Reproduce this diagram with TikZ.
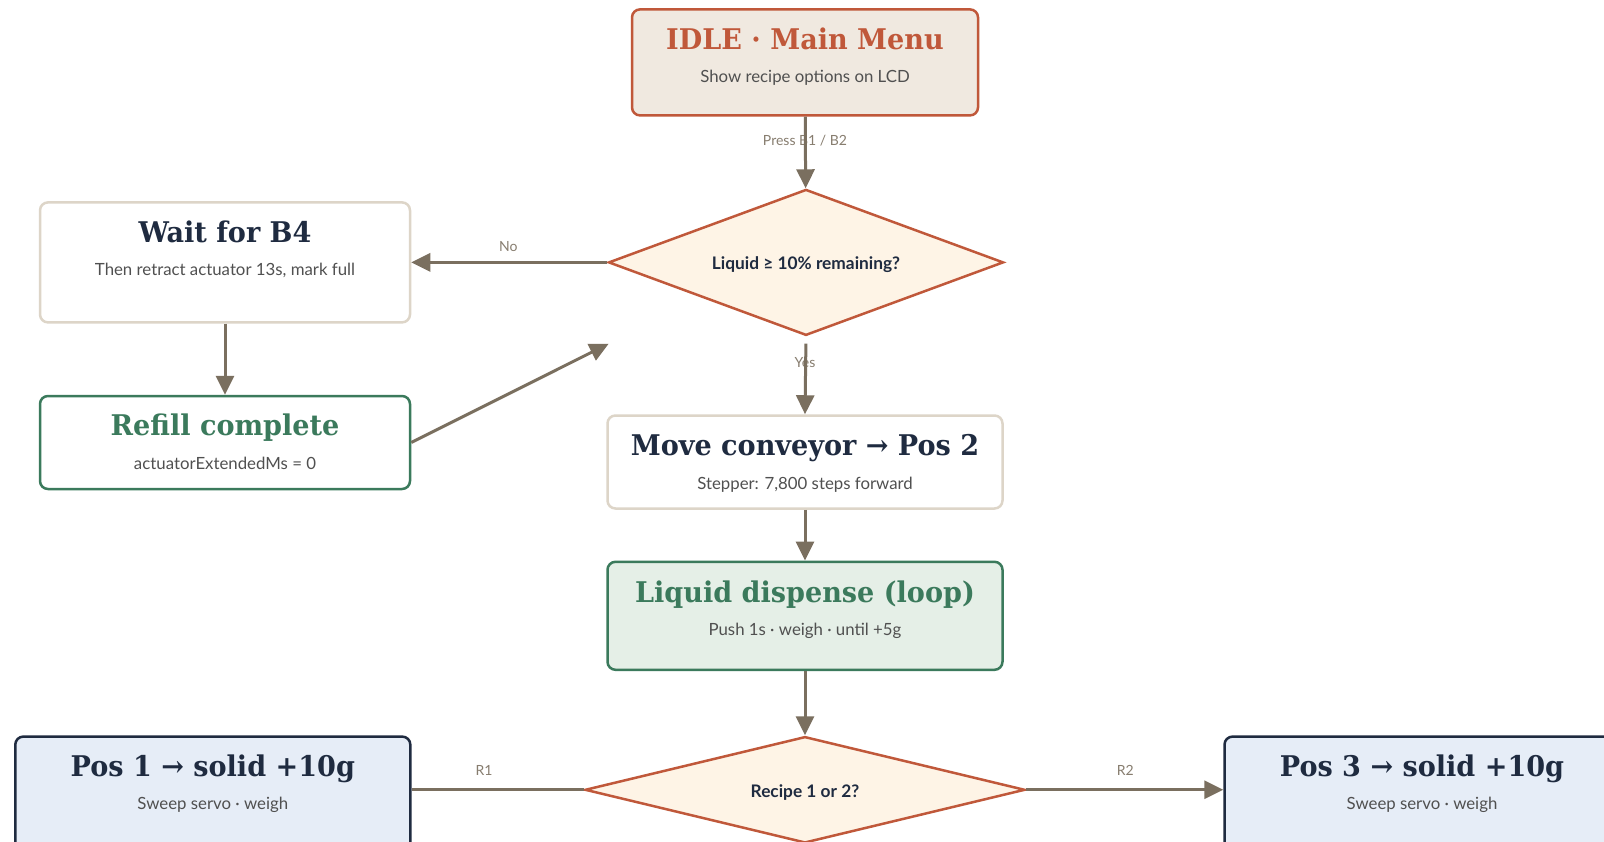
\documentclass[tikz,border=0pt]{standalone}
\usepackage{fontspec}
\usepackage{tikz}
\usetikzlibrary{shapes.geometric, arrows.meta, positioning, calc}
\newfontfamily\headfont{DejaVu Serif}[FakeStretch=0.95]
\newfontfamily\bodyfont{Lato}
\definecolor{rust}{RGB}{192,88,58}
\definecolor{idlefill}{RGB}{240,233,224}
\definecolor{decfill}{RGB}{254,244,230}
\definecolor{sandline}{RGB}{221,213,200}
\definecolor{navy}{RGB}{31,43,64}
\definecolor{pine}{RGB}{59,122,92}
\definecolor{pinefill}{RGB}{229,239,231}
\definecolor{skyfill}{RGB}{230,237,247}
\definecolor{taupe}{RGB}{122,111,95}
\definecolor{subgray}{RGB}{80,80,80}

\begin{document}
\begin{tikzpicture}[x=1pt, y=-1pt,
  box/.style={rectangle, draw=#1, line width=2.5pt, rounded corners=8pt, inner sep=0pt},
  ttl/.style={text=#1, font=\headfont\bfseries\fontsize{28.5}{32}\selectfont, inner sep=0pt, anchor=base},
  sub/.style={text=subgray, font=\bodyfont\fontsize{16.8}{20}\selectfont, inner sep=0pt, anchor=base},
  decision/.style={diamond, draw=rust, fill=decfill, line width=2.5pt, inner sep=0pt,
                   text=navy, font=\bodyfont\bfseries\fontsize{17.3}{20}\selectfont},
  arr/.style={-{Triangle[length=19pt,width=18pt]}, line width=3pt, taupe},
  lbl/.style={text=taupe!90!white, font=\bodyfont\fontsize{14}{16}\selectfont, inner sep=1pt},
]
  \useasboundingbox (0,0) rectangle (1604,842);
  \clip (0,0) rectangle (1604,842);
  \fill[white] (0,0) rectangle (1604,842);

  % Boxes
  \node[box=rust, fill=idlefill, minimum width=346pt, minimum height=106pt] (idle) at (805,62.4) {};
  \node[ttl=rust] (idleT) at ([yshift=-41pt]idle.north) {IDLE · Main Menu};
  \node[sub] (idleS) at ([yshift=-74pt]idle.north) {Show recipe options on LCD};

  \node[decision, aspect=2.7, minimum width=395pt, minimum height=146pt] (liq) at (806,262.4) {\raisebox{-7.5pt}[0pt][0pt]{Liquid ≥ 10\% remaining?}};

  \node[box=sandline, fill=white, minimum width=370pt, minimum height=120pt] (wait) at (225,262.4) {};
  \node[ttl=navy] (waitT) at ([yshift=-41pt]wait.north) {Wait for B4};
  \node[sub] (waitS) at ([yshift=-74pt]wait.north) {Then retract actuator 13s, mark full};

  \node[box=pine, fill=white, minimum width=370pt, minimum height=93pt] (refill) at (225,442.5) {};
  \node[ttl=pine] (refillT) at ([yshift=-41pt]refill.north) {Refill complete};
  \node[sub] (refillS) at ([yshift=-74.5pt]refill.north) {actuatorExtendedMs = 0};

  \node[box=sandline, fill=white, minimum width=395pt, minimum height=93pt] (move) at (805,462) {};
  \node[ttl=navy] (moveT) at ([yshift=-41.5pt]move.north) {Move conveyor → Pos 2};
  \node[sub] (moveS) at ([yshift=-75pt]move.north) {Stepper: 7,800 steps forward};

  \node[box=pine, fill=pinefill, minimum width=395pt, minimum height=108pt] (disp) at (805,615.8) {};
  \node[ttl=pine] (dispT) at ([yshift=-42pt]disp.north) {Liquid dispense (loop)};
  \node[sub] (dispS) at ([yshift=-74.5pt]disp.north) {Push 1s · weigh · until +5g};

  \node[decision, aspect=4.1, minimum width=440pt, minimum height=106.4pt] (rec) at (805,789.8) {\raisebox{-7.5pt}[0pt][0pt]{Recipe 1 or 2?}};

  \node[box=navy, fill=skyfill, minimum width=395pt, minimum height=120pt] (pos1) at (212.8,796.6) {};
  \node[ttl=navy] (pos1T) at ([yshift=-41pt]pos1.north) {Pos 1 → solid +10g};
  \node[sub] (pos1S) at ([yshift=-74pt]pos1.north) {Sweep servo · weigh};

  \node[box=navy, fill=skyfill, minimum width=395pt, minimum height=120pt] (pos3) at (1422,796.6) {};
  \node[ttl=navy] (pos3T) at ([yshift=-41pt]pos3.north) {Pos 3 → solid +10g};
  \node[sub] (pos3S) at ([yshift=-74pt]pos3.north) {Sweep servo · weigh};

  % Edge labels
  \node[lbl] (pressL) at (805,141) {Press B1 / B2};
  \node[lbl] (noL) at (508.4,246.5) {No};
  \node[lbl] (yesL) at (805,363) {Yes};
  \node[lbl] (r1L) at (484,770.3) {R1};
  \node[lbl] (r2L) at (1125.3,770.3) {R2};

  \coordinate (back) at (608.7,343.7);

  \draw[arr] (idle) -- (liq);
  \draw[arr] (liq.west) -- (wait.east);
  \draw[arr] (wait) -- (refill);
  \draw[arr] (refill.east) -- (back);
  \draw[arr, shorten <=7pt] (liq.south) -- (move.north);
  \draw[arr] (move) -- (disp);
  \draw[arr] (disp) -- (rec);
  \draw[line width=3pt, taupe] (rec.west) -- (pos1.east |- rec.west);
  \draw[arr] (rec.east) -- (pos3.west |- rec.east);
\end{tikzpicture}
\end{document}
